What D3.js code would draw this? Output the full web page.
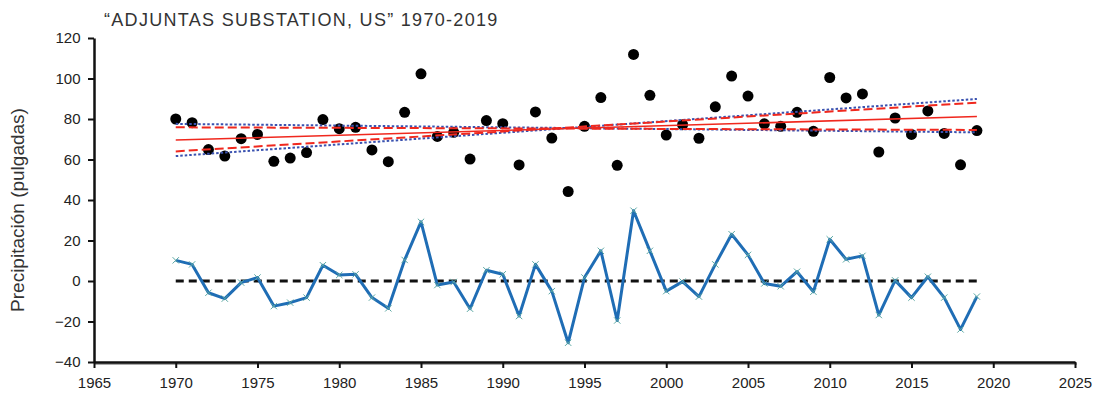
<!DOCTYPE html>
<html>
<head>
<meta charset="utf-8">
<script src="https://cdn.jsdelivr.net/npm/d3@7"></script>
<style>
  body { margin: 0; background: #fff; }
  svg { display: block; }
  .tick text { font-family: "Liberation Sans Narrow", "Liberation Sans", Arial, sans-serif; font-size: 15px; fill: #222; }
</style>
</head>
<body>
<div id="chart"></div>
<script>
// data
var years = d3.range(1970, 2020);

var precip = [80.0, 78.2, 64.9, 61.7, 70.3, 72.4, 59.1, 60.7, 63.4, 79.7,
              75.2, 75.9, 64.7, 58.9, 83.3, 102.3, 71.4, 73.4, 60.2, 79.2,
              77.7, 57.3, 83.5, 70.6, 44.2, 76.4, 90.6, 57.1, 111.9, 91.7,
              72.1, 77.2, 70.5, 86.0, 101.2, 91.3, 77.6, 76.4, 83.3, 73.9,
              100.5, 90.4, 92.4, 63.7, 80.5, 72.4, 84.0, 72.9, 57.4, 74.3];

var anomaly = [10.2, 8.2, -5.8, -8.7, -0.8, 1.7, -12.4, -10.7, -8.2, 7.8,
               3.0, 3.3, -8.2, -13.5, 10.4, 29.2, -2.0, -0.5, -13.7, 5.3,
               3.3, -17.3, 8.2, -5.0, -30.5, 1.7, 14.9, -19.5, 34.7, 14.9,
               -5.0, -0.3, -7.7, 8.2, 23.1, 12.9, -1.2, -2.6, 4.6, -5.3,
               20.6, 10.7, 12.4, -16.8, 0.3, -8.2, 2.1, -8.2, -23.9, -7.7];

// trend lines: values at first and last year
var trendYears = [1970, 2019];
var trend = [69.6, 81.2];
var confHigh = [64.0, 88.1];
var confLow = [75.9, 74.6];
var predHigh = [61.7, 89.9];
var predLow = [77.6, 73.4];
var zeroLine = [0, 0];

var xTicks = d3.range(1965, 2026, 5);
var yTicks = d3.range(-40, 121, 20);

var width = 1096, height = 393;

var svg = d3.select("#chart").append("svg")
    .attr("width", width)
    .attr("height", height);

var x = d3.scaleLinear().domain([1965, 2025]).range([94, 1075]);
var y = d3.scaleLinear().domain([-40, 120]).range([362, 38]);

// title
svg.append("text")
    .attr("x", 104)
    .attr("y", 26)
    .attr("font-family", "Liberation Sans, Arial, sans-serif")
    .attr("font-size", 18)
    .attr("letter-spacing", 1.3)
    .attr("fill", "#333")
    .text("\u201CADJUNTAS SUBSTATION, US\u201D 1970-2019");

// y title
svg.append("text")
    .attr("transform", "translate(24," + 210 + ")rotate(-90)")
    .attr("text-anchor", "middle")
    .attr("font-family", "Liberation Sans, Arial, sans-serif")
    .attr("font-size", 19)
    .attr("fill", "#333")
    .text("Precipitaci\u00F3n (pulgadas)");

// axes
var xAxis = d3.axisBottom(x).tickValues(xTicks).tickFormat(d3.format("d")).tickSize(6).tickSizeOuter(0);
var yAxis = d3.axisLeft(y).tickValues(yTicks).tickSize(6).tickSizeOuter(0);

// grey shadow under the bottom axis
svg.append("line")
    .attr("x1", x(1965)).attr("x2", x(2025) + 2)
    .attr("y1", y(-40) + 2).attr("y2", y(-40) + 2)
    .attr("stroke", "#aaa").attr("stroke-width", 2);

var gx = svg.append("g")
    .attr("transform", "translate(0," + y(-40) + ")")
    .call(xAxis);
gx.select(".domain").attr("stroke", "#111").attr("stroke-width", 2.5);
gx.selectAll(".tick line").attr("stroke", "#111").attr("stroke-width", 2);
gx.selectAll(".tick text").attr("dy", "1.1em");

var gy = svg.append("g")
    .attr("transform", "translate(" + x(1965) + ",0)")
    .call(yAxis);
gy.select(".domain").attr("stroke", "#111").attr("stroke-width", 2.5);
gy.selectAll(".tick line").attr("stroke", "#111").attr("stroke-width", 2);
gy.selectAll(".tick text").attr("dx", "-0.3em");

var line = d3.line()
    .x(function(d) { return x(d[0]); })
    .y(function(d) { return y(d[1]); });

function pairs(xs, ys) {
  return xs.map(function(v, i) { return [v, ys[i]]; });
}

// zero reference
svg.append("path")
    .datum(pairs(trendYears, zeroLine))
    .attr("d", line)
    .attr("fill", "none")
    .attr("stroke", "#111")
    .attr("stroke-width", 3)
    .attr("stroke-dasharray", "8,5");

// anomaly series
svg.append("path")
    .datum(pairs(years, anomaly))
    .attr("d", line)
    .attr("fill", "none")
    .attr("stroke", "#1f6db5")
    .attr("stroke-width", 3)
    .attr("stroke-linejoin", "round");

svg.selectAll(".mark")
    .data(pairs(years, anomaly))
    .enter().append("path")
    .attr("class", "mark")
    .attr("transform", function(d) { return "translate(" + x(d[0]) + "," + y(d[1]) + ")"; })
    .attr("d", d3.symbol(d3.symbolX, 28))
    .attr("fill", "none")
    .attr("stroke", "#5aa7a2")
    .attr("stroke-width", 1);

// precipitation points
svg.selectAll(".dot")
    .data(pairs(years, precip))
    .enter().append("circle")
    .attr("class", "dot")
    .attr("cx", function(d) { return x(d[0]); })
    .attr("cy", function(d) { return y(d[1]); })
    .attr("r", 5.5)
    .attr("fill", "#000");

// trend and bands
[[predHigh, "#3a52b0", 2, "2.5,2"], [predLow, "#3a52b0", 2, "2.5,2"],
 [confHigh, "#f0281e", 2, "9,4"], [confLow, "#f0281e", 2, "9,4"],
 [trend, "#f0281e", 1.6, null]].forEach(function(t) {
  var p = svg.append("path")
      .datum(pairs(trendYears, t[0]))
      .attr("d", line)
      .attr("fill", "none")
      .attr("stroke", t[1])
      .attr("stroke-width", t[2]);
  if (t[3]) p.attr("stroke-dasharray", t[3]);
});
</script>
</body>
</html>
